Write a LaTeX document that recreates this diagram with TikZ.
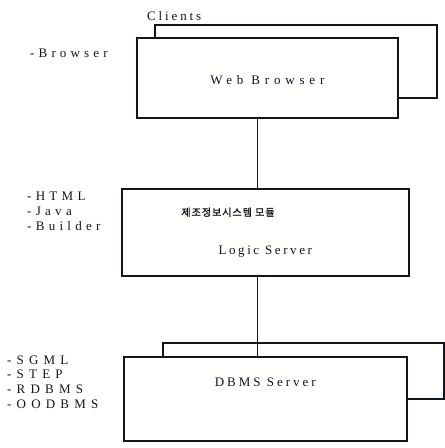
\documentclass[tikz,border=0pt]{standalone}
\usepackage{fontspec}
\setmainfont{Liberation Serif}
\newfontfamily\kofont{Noto Sans CJK KR}[LetterSpace=10, FakeBold=1.5]
\usetikzlibrary{positioning,calc}
\definecolor{ink}{rgb}{0.08,0.08,0.11}
\definecolor{paper}{rgb}{1,1,0.995}
\tikzset{tier/.style={draw=ink, line width=1.6pt, fill=paper, anchor=north west, inner sep=0pt},
 spaced/.style={font=\fontsize{13}{14.6}\selectfont\addfontfeature{LetterSpace=#1}, inner sep=0pt},
 spaced/.default=30,
 link/.style={draw=ink, line width=1.6pt}}
\begin{document}
\begin{tikzpicture}[x=1pt,y=1pt,color=ink]
\useasboundingbox (0,0) rectangle (445,-448);
% client tier
\node[tier, minimum width=282pt, minimum height=73pt] (CLback) at (154,-24) {};
\node[tier, spaced=37, minimum width=261pt, text height=47pt, text depth=33pt] (WB) at (136,-37) {Web Browser};
\node[above right=3pt and -7pt of CLback.north west, spaced=22] (CL) {Clients};
\node[spaced=32, anchor=base west] (BR) at (30,-57) {-Browser};

% logic tier
\node[tier, spaced=20, minimum width=287pt, text height=66pt, text depth=21pt] (LS) at (121,-188) {Logic Server};
\node[anchor=base, inner sep=0pt, font=\kofont\fontsize{10}{10}\selectfont] (KR) at (228,-216) {제조정보시스템 모듈};
\node[spaced=33, align=left, anchor=base west] (TL) at (27,-230) {-HTML\\-Java\\-Builder};

% data tier
\node[tier, minimum width=281pt, minimum height=56pt] (DBback) at (162,-342) {};
\node[tier, spaced=23, minimum width=283pt, text height=30pt, text depth=54pt] (DB) at (123,-356) {DBMS Server};
\node[spaced=40, align=left, anchor=base west] (DL) at (7,-408) {-SGML\\-STEP\\-RDBMS\\-OODBMS};

\draw[link] ([xshift=-10pt]WB.south) -- ([xshift=-10pt]WB.south |- LS.north);
\draw[link] ([xshift=-8pt]LS.south) -- ([xshift=-8pt]LS.south |- DB.north);
\end{tikzpicture}
\end{document}
